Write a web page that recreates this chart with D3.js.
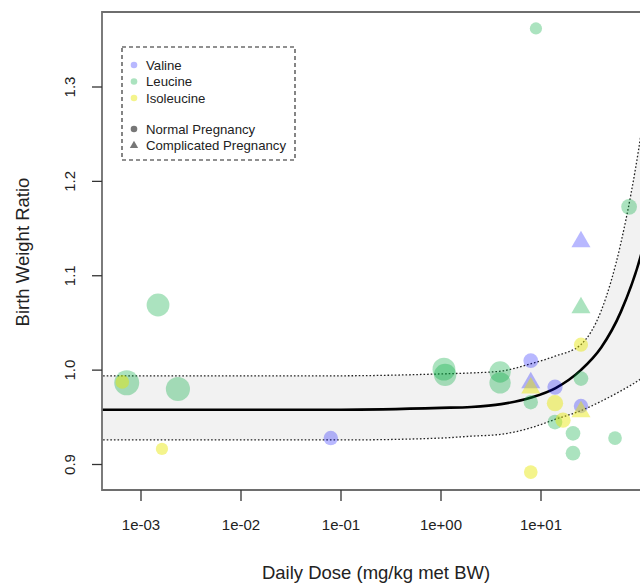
<!DOCTYPE html>
<html><head><meta charset="utf-8">
<script src="https://cdn.jsdelivr.net/npm/d3@7"></script>
<style>body{margin:0;background:#fff}svg{display:block;font-family:"Liberation Sans",Arial,sans-serif}</style>
</head><body><svg id="c" width="640" height="586"></svg>
<script>
// ---- data ----
const amino = ["Valine","Leucine","Isoleucine"];
const aminoColors = ["rgba(0,0,255,0.28)","rgba(0,170,60,0.33)","rgba(230,230,0,0.45)"];
const pregnancy = ["Normal Pregnancy","Complicated Pregnancy"];
// studies: dose (mg/kg met BW), birth weight ratio, amino acid, pregnancy type, weight (n)
const dose   = [0.00072,0.00065,0.00148,0.00234,0.00162,0.079,1.07,1.10,3.9,3.9,7.9,7.9,7.9,7.9,7.9,8.9,13.8,13.8,13.8,16.6,20.9,20.9,25.1,25.1,25.1,25.1,25.1,25.1,55,76];
const ratio  = [0.9865,0.9875,1.069,0.980,0.9165,0.928,1.001,0.995,0.998,0.9865,1.010,0.9865,0.981,0.966,0.892,1.362,0.982,0.965,0.945,0.947,0.933,0.912,1.027,0.991,0.962,0.956,1.136,1.066,0.928,1.173];
const acid   = [1,2,1,1,2,0,1,1,1,1,0,0,2,1,2,1,0,2,1,2,1,1,2,1,0,2,0,1,1,1];
const preg   = [0,0,0,0,0,0,0,0,0,0,0,1,1,0,0,0,0,0,0,0,0,0,0,0,0,1,1,1,0,0];
const weight = [150,45,125,140,36,50,125,120,110,110,52,60,60,50,45,36,56,64,52,56,52,52,48,52,50,60,60,60,45,60];
// fitted model curve and confidence band
const curveDose = [0.0003,0.001,0.01,0.1,1,2,4,8,14,25,40,63,100,160];
const curveFit  = [0.958,0.958,0.958,0.958,0.960,0.961,0.964,0.971,0.981,1.000,1.024,1.062,1.122,1.220];
const curveUp   = [0.994,0.994,0.994,0.994,0.996,0.997,0.999,1.007,1.015,1.027,1.063,1.135,1.250,1.420];
const curveLo   = [0.926,0.926,0.926,0.926,0.928,0.930,0.932,0.939,0.948,0.957,0.967,0.978,0.991,1.010];
const xTicks = [1e-3,1e-2,1e-1,1e0,1e1];
const xTickLabels = ["1e-03","1e-02","1e-01","1e+00","1e+01"];
const yTicks = [0.9,1.0,1.1,1.2,1.3];
const yTickLabels = ["0.9","1.0","1.1","1.2","1.3"];

// ---- layout ----
const svg = d3.select("#c");
const L = 102, T = 12, B = 490, R = 680;
const x = d3.scaleLog().domain([1e-3,10]).range([141,541]);
const y = d3.scaleLinear().domain([0.9,1.3]).range([464.5,87]);
const r = d3.scaleSqrt().domain([0,150]).range([0,12.5]);

svg.append("clipPath").attr("id","clip").append("rect")
  .attr("x",L).attr("y",T).attr("width",R-L).attr("height",B-T);
const g = svg.append("g").attr("clip-path","url(#clip)");

const cd = curveDose.map((d,i)=>({d, f:curveFit[i], u:curveUp[i], l:curveLo[i]}));
g.append("path").datum(cd).attr("fill","#f2f2f2")
  .attr("d", d3.area().x(p=>x(p.d)).y0(p=>y(p.l)).y1(p=>y(p.u)).curve(d3.curveMonotoneX));
const ln = key => d3.line().x(p=>x(p.d)).y(p=>y(p[key])).curve(d3.curveMonotoneX);
g.append("path").datum(cd).attr("fill","none").attr("stroke","#222").attr("stroke-width",1.3)
  .attr("stroke-dasharray","1.6,2").attr("d", ln("u"));
g.append("path").datum(cd).attr("fill","none").attr("stroke","#222").attr("stroke-width",1.3)
  .attr("stroke-dasharray","1.6,2").attr("d", ln("l"));
g.append("path").datum(cd).attr("fill","none").attr("stroke","#000").attr("stroke-width",2.6)
  .attr("d", ln("f"));

const pts = dose.map((d,i)=>({d, v:ratio[i], a:acid[i], p:preg[i], w:weight[i]}));
pts.forEach(p=>{
  if(p.p===0){
    g.append("circle").attr("cx",x(p.d)).attr("cy",y(p.v)).attr("r",r(p.w)).attr("fill",aminoColors[p.a]);
  } else {
    const s = r(p.w)*1.2;
    g.append("path").attr("transform",`translate(${x(p.d)},${y(p.v)})`)
      .attr("d", d3.symbol(d3.symbolTriangle, s*s*1.75)()).attr("fill",aminoColors[p.a]);
  }
});

// frame
svg.append("path").attr("d",`M${R},${T}H${L}V${B}H${R}`).attr("fill","none")
  .attr("stroke","#6e6e6e").attr("stroke-width",1.8);

// axes
const xa = svg.append("g");
xTicks.forEach((t,i)=>{
  xa.append("line").attr("x1",x(t)).attr("x2",x(t)).attr("y1",B).attr("y2",B+11).attr("stroke","#333").attr("stroke-width",1.3);
  xa.append("text").attr("x",x(t)).attr("y",530).attr("text-anchor","middle").attr("font-size",15).attr("fill","#222").text(xTickLabels[i]);
});
const ya = svg.append("g");
yTicks.forEach((t,i)=>{
  ya.append("line").attr("x1",L).attr("x2",L-10).attr("y1",y(t)).attr("y2",y(t)).attr("stroke","#333").attr("stroke-width",1.3);
  ya.append("text").attr("transform",`translate(75,${y(t)}) rotate(-90)`).attr("text-anchor","middle")
    .attr("font-size",15).attr("fill","#222").text(yTickLabels[i]);
});
svg.append("text").attr("x",376).attr("y",579).attr("text-anchor","middle").attr("font-size",18.5).attr("fill","#222")
  .text("Daily Dose (mg/kg met BW)");
svg.append("text").attr("transform","translate(29,252) rotate(-90)").attr("text-anchor","middle").attr("font-size",18.5).attr("fill","#222")
  .text("Birth Weight Ratio");

// legend
const lg = svg.append("g");
lg.append("rect").attr("x",122).attr("y",47).attr("width",173).attr("height",113)
  .attr("fill","#fff").attr("stroke","#222").attr("stroke-width",1.1).attr("stroke-dasharray","4,3");
amino.forEach((a,i)=>{
  const yy = 65 + i*16.5;
  lg.append("circle").attr("cx",134).attr("cy",yy).attr("r",3.3).attr("fill",aminoColors[i]);
  lg.append("text").attr("x",146).attr("y",yy+4.5).attr("font-size",13.2).attr("fill","#222").text(a);
});
pregnancy.forEach((p,i)=>{
  const yy = 129 + i*16.5;
  if(i===0) lg.append("circle").attr("cx",134).attr("cy",yy).attr("r",3.3).attr("fill","#777");
  else lg.append("path").attr("transform",`translate(134,${yy})`).attr("d",d3.symbol(d3.symbolTriangle,30)()).attr("fill","#777");
  lg.append("text").attr("x",146).attr("y",yy+4.5).attr("font-size",13.2).attr("fill","#222").text(p);
});
</script></body></html>
